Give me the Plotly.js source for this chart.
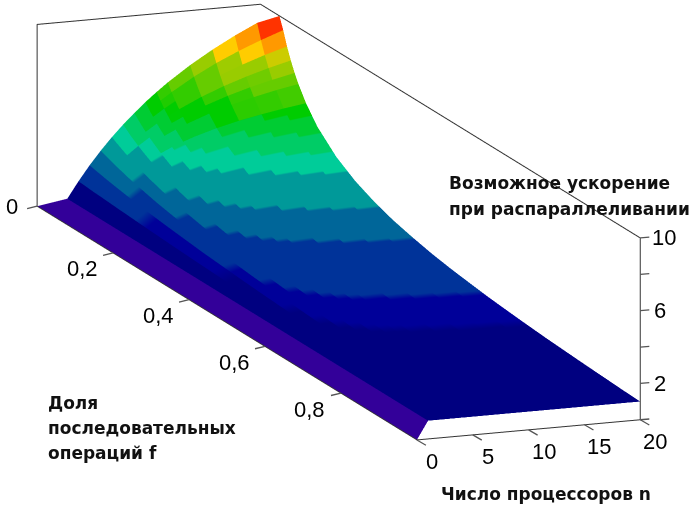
<!DOCTYPE html>
<html><head><meta charset="utf-8">
<script src="https://cdn.plot.ly/plotly-3.0.1.min.js"></script>
<style>html,body{margin:0;padding:0;background:#fff}#c{width:690px;height:509px}</style></head>
<body><div id="c"></div>
<script>
const fractions=[0.05,0.06,0.07,0.08,0.09,0.1,0.12,0.15,0.2,0.25,0.3,0.35,0.4,0.45,0.5,0.55,0.6,0.65,0.7,0.75,0.8,0.85,0.9,0.95,1];
const processors=[0,1,2,3,4,5,6,7,8,9,10,12,14,16,18,20];
const speedup=[
[0,1,1.90,2.73,3.48,4.17,4.80,5.38,5.93,6.43,6.90,7.74,8.48,9.14,9.73,10.0],
[0,1,1.89,2.68,3.39,4.03,4.62,5.15,5.63,6.08,6.49,7.23,7.87,8.42,8.91,9.35],
[0,1,1.87,2.63,3.31,3.91,4.44,4.93,5.37,5.77,6.13,6.78,7.33,7.80,8.22,8.58],
[0,1,1.85,2.59,3.23,3.79,4.29,4.73,5.13,5.49,5.81,6.38,6.86,7.27,7.63,7.94],
[0,1,1.83,2.54,3.15,3.68,4.14,4.55,4.91,5.23,5.52,6.03,6.45,6.81,7.11,7.38],
[0,1,1.82,2.50,3.08,3.57,4.00,4.38,4.71,5.00,5.26,5.71,6.09,6.40,6.67,6.90],
[0,1,1.79,2.42,2.94,3.38,3.75,4.07,4.35,4.59,4.81,5.17,5.47,5.71,5.92,6.10],
[0,1,1.74,2.31,2.76,3.13,3.43,3.68,3.90,4.09,4.26,4.53,4.75,4.92,5.07,5.19],
[0,1,1.67,2.14,2.50,2.78,3.00,3.18,3.33,3.46,3.57,3.75,3.89,4.00,4.09,4.17],
[0,1,1.60,2.00,2.29,2.50,2.67,2.80,2.91,3.00,3.08,3.20,3.29,3.37,3.43,3.48],
[0,1,1.54,1.88,2.11,2.27,2.40,2.50,2.58,2.65,2.70,2.79,2.86,2.91,2.95,2.99],
[0,1,1.48,1.76,1.95,2.08,2.18,2.26,2.32,2.37,2.41,2.47,2.52,2.56,2.59,2.61],
[0,1,1.43,1.67,1.82,1.92,2.00,2.06,2.11,2.14,2.17,2.22,2.26,2.29,2.31,2.33],
[0,1,1.38,1.58,1.70,1.79,1.85,1.89,1.93,1.96,1.98,2.02,2.04,2.06,2.08,2.09],
[0,1,1.33,1.50,1.60,1.67,1.71,1.75,1.78,1.80,1.82,1.85,1.87,1.88,1.89,1.90],
[0,1,1.29,1.43,1.51,1.56,1.60,1.63,1.65,1.67,1.68,1.70,1.72,1.73,1.74,1.75],
[0,1,1.25,1.36,1.43,1.47,1.50,1.52,1.54,1.55,1.56,1.58,1.59,1.60,1.61,1.61],
[0,1,1.21,1.30,1.36,1.39,1.41,1.43,1.44,1.45,1.46,1.47,1.48,1.49,1.49,1.50],
[0,1,1.18,1.25,1.29,1.32,1.33,1.35,1.36,1.36,1.37,1.38,1.39,1.39,1.40,1.40],
[0,1,1.14,1.20,1.23,1.25,1.26,1.27,1.28,1.29,1.29,1.30,1.30,1.31,1.31,1.31],
[0,1,1.11,1.15,1.18,1.19,1.20,1.21,1.21,1.22,1.22,1.22,1.23,1.23,1.24,1.24],
[0,1,1.08,1.11,1.13,1.14,1.14,1.15,1.15,1.15,1.16,1.16,1.16,1.16,1.17,1.17],
[0,1,1.05,1.07,1.08,1.09,1.09,1.09,1.10,1.10,1.10,1.10,1.10,1.11,1.11,1.11],
[0,1,1.03,1.03,1.04,1.04,1.04,1.04,1.04,1.05,1.05,1.05,1.05,1.05,1.05,1.05],
[0,1,1,1,1,1,1,1,1,1,1,1,1,1,1,1]
];
const bandColors=['#330099','#000080','#000099','#003399','#006699','#009999','#00CC99','#00CC66','#00CC33','#00CC00','#33CC00','#66CC00','#99CC00','#CCCC00','#FFCC00','#FF9900','#FF6600','#FF3300'];
const bandEdges=[0,0.9,1.4,1.67,2.3,2.85,3.7,4.3,4.9,5.5,6.1,6.7,7.3,7.9,8.4,8.9,9.3,9.6,10.3];
const frameF=[0,0,0,1,1];
const frameN=[0,0,20,20,20];
const frameZ=[0,10,10,10,0];
const fTicks=[0,0.2,0.4,0.6,0.8];
const fLabels=['0','0,2','0,4','0,6','0,8'];
const nTicks=[0,5,10,15,20];
const zTickMarks=[0,2,4,6,8,10];
const zLabels=[2,6,10];
const axisLabels=[['Возможное ускорение',447,183],['при распараллеливании',447,209],['Доля',46,403],['последовательных',46,428],['операций f',46,453],['Число процессоров n',439,494]];

const cmax=bandEdges[bandEdges.length-1];
const cs=[];
bandColors.forEach((c,i)=>{cs.push([bandEdges[i]/cmax,c]);cs.push([bandEdges[i+1]/cmax,c]);});
// flat-shaded cells: each interior grid line is doubled so a cell keeps one colour
const I=processors.length,J=fractions.length;
const idxHi=k=>(k+1)>>1, idxLo=k=>k>>1;
const rows=2*(I-1),cols=2*(J-1);
const X=[],Y=[],Z=[],C=[];
for(let r=0;r<rows;r++){X.push([]);Y.push([]);Z.push([]);C.push([]);
 for(let c=0;c<cols;c++){
  const i=idxHi(r),j=idxHi(c);
  X[r].push(i===0&&j===0?0:fractions[j]);
  Y[r].push(processors[i]);
  Z[r].push(speedup[j][i]);
  const colourCol=fractions[idxLo(c)]>=0.12?j:idxLo(c);
  C[r].push(speedup[colourCol][idxLo(r)]);
 }}
const font=s=>({family:'Liberation Sans, Arial',size:s,color:'#000'});
const axBase={showgrid:false,zeroline:false,showbackground:false,showspikes:false,showline:true,linecolor:'#333',linewidth:2,
 ticks:'',showticklabels:false,title:{text:''}};
const data=[
{type:'surface',x:X,y:Y,z:Z,surfacecolor:C,colorscale:cs,cmin:0,cmax:cmax,showscale:false,hoverinfo:'skip',
 lighting:{ambient:1,diffuse:0,specular:0,fresnel:0,roughness:1}},
{type:'scatter3d',mode:'lines',x:frameF,y:frameN,z:frameZ,line:{color:'#333',width:2},hoverinfo:'skip',showlegend:false}
];
const tick=(x,y,z,ax,ay)=>({x,y,z,text:' ',showarrow:true,arrowhead:0,arrowwidth:1.3,arrowcolor:'#555',ax,ay,standoff:0,startstandoff:0});
const lab=(x,y,z,t,xs,ys)=>({x,y,z,text:t,showarrow:false,xshift:xs,yshift:ys,font:font(22)});
const sceneAnn=[];
fTicks.forEach((f,i)=>{sceneAnn.push(tick(f,0,0,-13,3));sceneAnn.push(lab(f,0,0,fLabels[i],i?-31:-25,i?-16:0));});
nTicks.forEach(n=>{sceneAnn.push(tick(1,n,0,12,7));sceneAnn.push(lab(1,n,0,String(n),15,-22));});
zTickMarks.forEach(z=>sceneAnn.push(tick(1,20,z,12,-1)));
zLabels.forEach(z=>sceneAnn.push(lab(1,20,z,String(z),z===10?24:20,0)));
const R=8,cz=-0.131,cx=0.009,cy=0.023;
const layout={width:690,height:509,margin:{l:0,r:0,t:0,b:0},paper_bgcolor:'#fff',showlegend:false,
 scene:{domain:{x:[0,1],y:[0,1]},aspectmode:'manual',aspectratio:{x:4.17,y:0.94,z:0.735},
  camera:{projection:{type:'orthographic'},up:{x:0,y:0,z:1},center:{x:cx,y:cy,z:cz},eye:{x:0.908*R+cx,y:-0.348*R+cy,z:0.236*R+cz}},
  xaxis:Object.assign({},axBase,{range:[0,1]}),
  yaxis:Object.assign({},axBase,{range:[0,20]}),
  zaxis:Object.assign({},axBase,{range:[0,10]}),
  annotations:sceneAnn},
 annotations:axisLabels.map(a=>({text:a[0],xref:'paper',yref:'paper',x:a[1]/690,y:1-a[2]/509,xanchor:'left',yanchor:'middle',showarrow:false,
   font:{family:'DejaVu Sans, Verdana',size:17,color:'#111',weight:'bold'}}))
};
Plotly.newPlot('c',data,layout,{displayModeBar:false});
</script></body></html>
